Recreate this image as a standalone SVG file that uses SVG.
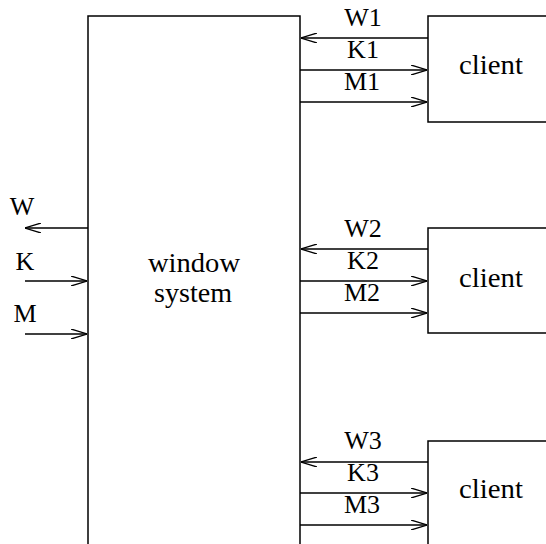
<svg xmlns="http://www.w3.org/2000/svg" width="546" height="544" viewBox="0 0 546 544">
<defs>
<marker id="ah" viewBox="0 0 16 10" refX="16" refY="5" markerWidth="16" markerHeight="10" markerUnits="userSpaceOnUse" orient="auto">
<path d="M0,0 L16,5 L0,10" fill="none" stroke="#000" stroke-width="1.3"/>
</marker>
<style>
.box{fill:none;stroke:#000;stroke-width:1.5}
.ln{stroke:#000;stroke-width:1.5;fill:none;marker-end:url(#ah)}
text{font-family:'Liberation Serif',serif;font-size:26px;fill:#000}
.c{text-anchor:middle}
.big{font-size:27px}
</style>
</defs>
<rect width="546" height="544" fill="#fff"/>
<g id="window-system">
<path class="box" d="M88,544 V16 H300 V544"/>
<text class="c big" x="194" y="272" textLength="92" lengthAdjust="spacingAndGlyphs">window</text>
<text class="c big" x="193" y="302" textLength="78" lengthAdjust="spacingAndGlyphs">system</text>
</g>
<g id="client1">
<path class="box" d="M546,16 H428 V122 H546"/>
<text class="c big" x="491" y="74" textLength="64" lengthAdjust="spacingAndGlyphs">client</text>
</g>
<g id="client2">
<path class="box" d="M546,228 H428 V333 H546"/>
<text class="c big" x="491" y="287" textLength="64" lengthAdjust="spacingAndGlyphs">client</text>
</g>
<g id="client3">
<path class="box" d="M546,441 H428 V544"/>
<text class="c big" x="491" y="498" textLength="64" lengthAdjust="spacingAndGlyphs">client</text>
</g>
<g id="connectors">
<line class="ln" x1="428" y1="38" x2="301" y2="38"/>
<line class="ln" x1="300" y1="70" x2="427" y2="70"/>
<line class="ln" x1="300" y1="102" x2="427" y2="102"/>
<line class="ln" x1="428" y1="249" x2="301" y2="249"/>
<line class="ln" x1="300" y1="281" x2="427" y2="281"/>
<line class="ln" x1="300" y1="313" x2="427" y2="313"/>
<line class="ln" x1="428" y1="462" x2="301" y2="462"/>
<line class="ln" x1="300" y1="493" x2="427" y2="493"/>
<line class="ln" x1="300" y1="525" x2="427" y2="525"/>
<line class="ln" x1="88" y1="228" x2="25" y2="228"/>
<line class="ln" x1="25" y1="281" x2="87" y2="281"/>
<line class="ln" x1="25" y1="334" x2="87" y2="334"/>
</g>
<g id="labels">
<text class="c" x="363" y="26">W1</text>
<text class="c" x="363" y="58">K1</text>
<text class="c" x="362" y="90">M1</text>
<text class="c" x="363" y="237">W2</text>
<text class="c" x="363" y="269">K2</text>
<text class="c" x="362" y="301">M2</text>
<text class="c" x="363" y="449">W3</text>
<text class="c" x="363" y="481">K3</text>
<text class="c" x="362" y="513">M3</text>
<text class="c" x="22" y="215">W</text>
<text class="c" x="25" y="270">K</text>
<text class="c" x="25" y="322">M</text>
</g>
</svg>
